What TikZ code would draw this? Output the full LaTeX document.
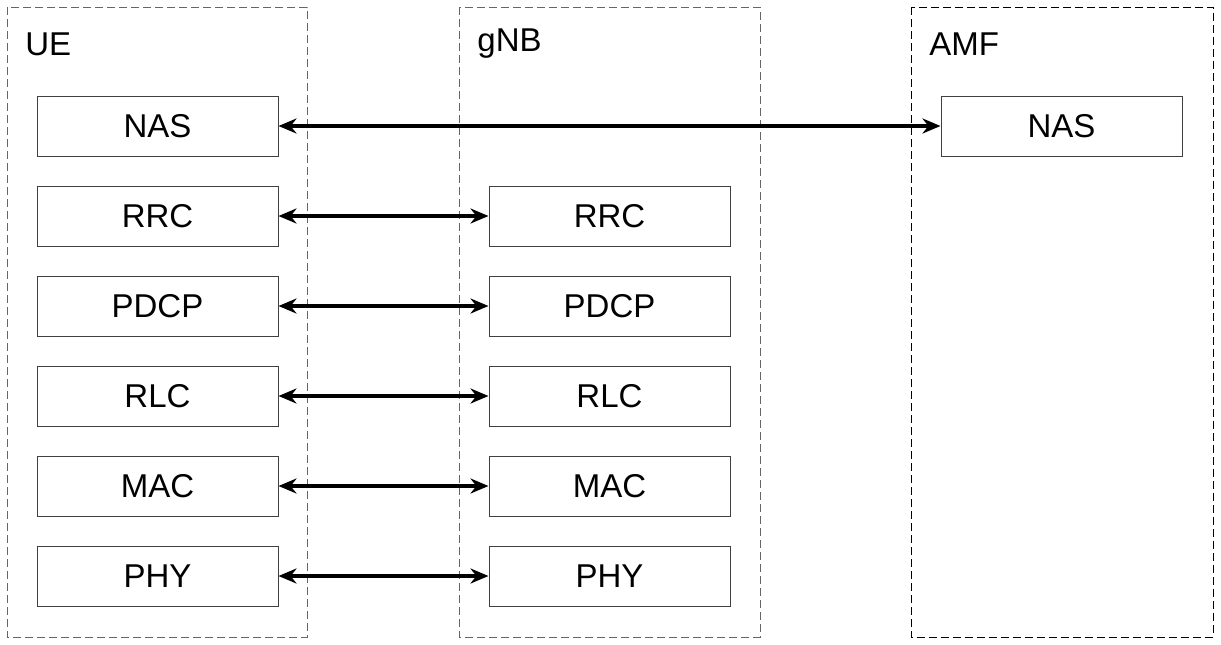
\documentclass[tikz,border=0pt]{standalone}
\usepackage{fontspec}
\setmainfont{Liberation Sans}
\usetikzlibrary{arrows.meta,positioning}

\begin{document}
\begin{tikzpicture}[x=0.5pt,y=-0.5pt,
  layer/.style={draw=black!75,line width=0.5pt,minimum width=120.5pt,minimum height=30pt,inner sep=0pt,font=\fontsize{16.5}{19}\selectfont},
  entity/.style={dashed,dash pattern=on 4pt off 2pt,line width=0.5pt},
  title/.style={anchor=west,inner sep=0pt,font=\fontsize{16.5}{19}\selectfont},
  arr/.style={{Stealth[length=9pt,width=7.5pt]}-{Stealth[length=9pt,width=7.5pt]},line width=1.6pt}]
  \useasboundingbox (0,0) rectangle (1221,644);

  % Entity frames
  \draw[entity,draw=black!60] (7,7) rectangle (307,637);
  \draw[entity,draw=black!60] (459,7) rectangle (760,637);
  \draw[entity,draw=black] (911,7) rectangle (1213,637);
  \node[title] (ueTitle) at (25,44) {UE};
  \node[title] (gnbTitle) at (477,44) {gNB};
  \node[title] (amfTitle) at (929,44) {AMF};

  % UE stack
  \node[layer] (ueNas) at (157.5,126) {NAS};
  \node[layer] (ueRrc) at (157.5,216) {RRC};
  \node[layer] (uePdcp) at (157.5,306) {PDCP};
  \node[layer] (ueRlc) at (157.5,396) {RLC};
  \node[layer] (ueMac) at (157.5,486) {MAC};
  \node[layer] (uePhy) at (157.5,576) {PHY};

  % gNB stack
  \node[layer] (gnbRrc) at (609.5,216) {RRC};
  \node[layer] (gnbPdcp) at (609.5,306) {PDCP};
  \node[layer] (gnbRlc) at (609.5,396) {RLC};
  \node[layer] (gnbMac) at (609.5,486) {MAC};
  \node[layer] (gnbPhy) at (609.5,576) {PHY};

  % AMF
  \node[layer] (amfNas) at (1061.5,126) {NAS};

  % Peer links
  \draw[arr] (ueNas.east) -- (amfNas.west);
  \draw[arr] (ueRrc.east) -- (gnbRrc.west);
  \draw[arr] (uePdcp.east) -- (gnbPdcp.west);
  \draw[arr] (ueRlc.east) -- (gnbRlc.west);
  \draw[arr] (ueMac.east) -- (gnbMac.west);
  \draw[arr] (uePhy.east) -- (gnbPhy.west);
\end{tikzpicture}
\end{document}
